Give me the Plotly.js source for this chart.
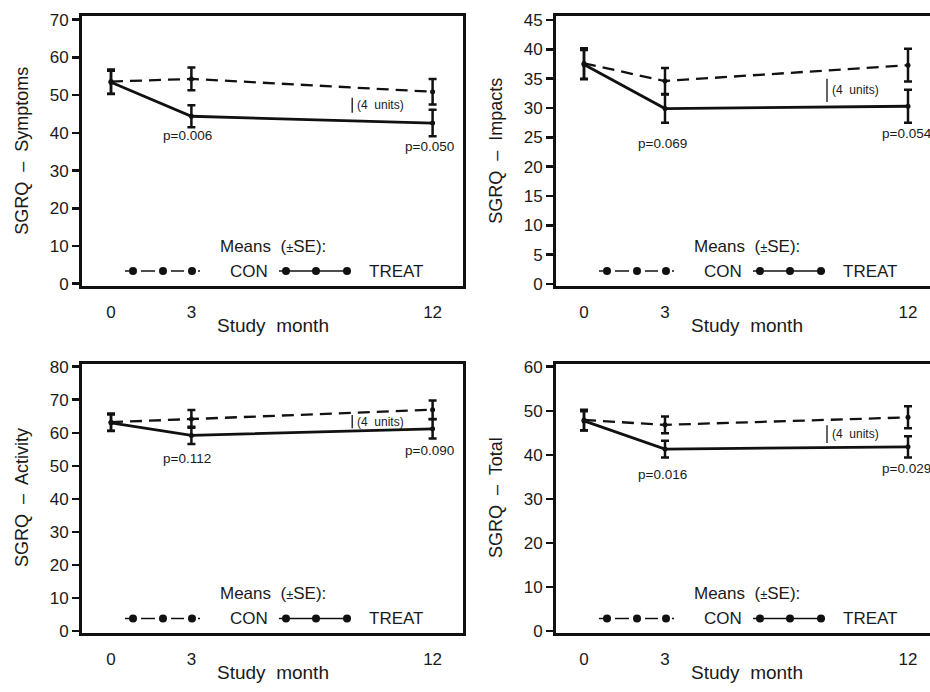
<!DOCTYPE html>
<html>
<head>
<meta charset="utf-8">
<script src="https://cdn.plot.ly/plotly-3.0.1.min.js"></script>
<style>html,body{margin:0;padding:0;background:#fff;}#chart{width:930px;height:692px;}</style>
</head>
<body>
<div id="chart"></div>
<script>
// ---------------- DATA ----------------
const months = [0, 3, 12];
const monthLabels = ['0', '3', '12'];

const symptomsCon = [53.6, 54.3, 50.9];
const symptomsConSE = [3.2, 3.0, 3.4];
const symptomsTreat = [53.4, 44.4, 42.6];
const symptomsTreatSE = [3.1, 2.9, 3.5];
const symptomsP = ['p=0.006', 'p=0.050'];

const impactsCon = [37.6, 34.6, 37.3];
const impactsConSE = [2.6, 2.2, 2.8];
const impactsTreat = [37.4, 29.9, 30.3];
const impactsTreatSE = [2.5, 2.4, 2.8];
const impactsP = ['p=0.069', 'p=0.054'];

const activityCon = [63.2, 64.2, 67.0];
const activityConSE = [2.6, 2.7, 2.8];
const activityTreat = [63.0, 59.2, 61.2];
const activityTreatSE = [2.5, 2.6, 2.9];
const activityP = ['p=0.112', 'p=0.090'];

const totalCon = [47.9, 46.8, 48.5];
const totalConSE = [2.3, 1.9, 2.5];
const totalTreat = [47.7, 41.3, 41.8];
const totalTreatSE = [2.2, 1.9, 2.4];
const totalP = ['p=0.016', 'p=0.029'];

const yTitles = ['SGRQ  \u2013  Symptoms', 'SGRQ  \u2013  Impacts', 'SGRQ  \u2013  Activity', 'SGRQ  \u2013  Total'];
const xTitle = 'Study  month';
const legendTitle = 'Means  (<span style="font-size:13px">\u00B1</span>SE):';
const groupNames = ['CON', 'TREAT'];
const scaleBarUnits = 4;
const scaleBarLabel = '(4  units)';

// ---------------- LAYOUT GEOMETRY (pixels) ----------------
const W = 930, H = 692;
const FONT = 'Liberation Sans, Arial, Helvetica, sans-serif';
const INK = '#1a1a1a';
const px = x => x / W;
const py = y => 1 - y / H;

const panels = [
  {n: '', con: symptomsCon, conSE: symptomsConSE, tr: symptomsTreat, trSE: symptomsTreatSE, p: symptomsP,
   left: 82, right: 463, top: 16, bottom: 285.5, x0: 111, ppm: 26.8, y0: 283.7, ppu: 3.771, dtick: 10,
   bar: {x: 9.0, y: 45.3}, pPos: [[2.87, 39.2, 'center'], [11.9, 36.5, 'center']], yt: 0, mirrorY: true},
  {n: '2', con: impactsCon, conSE: impactsConSE, tr: impactsTreat, trSE: impactsTreatSE, p: impactsP,
   left: 556, right: 930, top: 16, bottom: 285.5, x0: 584, ppm: 27.0, y0: 284, ppu: 5.867, dtick: 5,
   bar: {x: 9.0, y: 31.0}, pPos: [[2.89, 24.0, 'center'], [10.96, 25.7, 'left']], yt: 1, mirrorY: false, frameRight: 938},
  {n: '3', con: activityCon, conSE: activityConSE, tr: activityTreat, trSE: activityTreatSE, p: activityP,
   left: 82, right: 463, top: 363.5, bottom: 632.5, x0: 111, ppm: 26.8, y0: 631, ppu: 3.304, dtick: 10,
   bar: {x: 9.0, y: 61.4}, pPos: [[2.85, 52.1, 'center'], [11.9, 54.5, 'center']], yt: 2, mirrorY: true},
  {n: '4', con: totalCon, conSE: totalConSE, tr: totalTreat, trSE: totalTreatSE, p: totalP,
   left: 556, right: 930, top: 363.5, bottom: 632.5, x0: 584, ppm: 27.0, y0: 631, ppu: 4.405, dtick: 10,
   bar: {x: 9.0, y: 42.7}, pPos: [[2.89, 35.6, 'center'], [10.96, 36.8, 'left']], yt: 3, mirrorY: false, frameRight: 938}
];

const data = [];
const layout = {
  width: W, height: H,
  margin: {l: 0, r: 0, t: 0, b: 0},
  paper_bgcolor: '#fff', plot_bgcolor: '#fff',
  showlegend: false,
  font: {family: FONT, color: INK},
  annotations: [], shapes: []
};

panels.forEach((P, i) => {
  const xa = 'x' + P.n, ya = 'y' + P.n;
  const xr = [(P.left - P.x0) / P.ppm, (P.right - P.x0) / P.ppm];
  const yr = [(P.y0 - P.bottom) / P.ppu, (P.y0 - P.top) / P.ppu];
  layout['xaxis' + P.n] = {
    domain: [px(P.left), px(P.right)], range: xr, anchor: ya,
    tickvals: months, ticktext: monthLabels,
    ticks: 'outside', ticklen: 9, tickcolor: 'rgba(0,0,0,0)',
    tickfont: {size: 17, family: FONT, color: INK},
    showline: true, linewidth: 3, linecolor: '#111', mirror: true,
    showgrid: false, zeroline: false, fixedrange: true
  };
  layout['yaxis' + P.n] = {
    domain: [py(P.bottom), py(P.top)], range: yr, anchor: xa,
    dtick: P.dtick, tick0: 0,
    ticks: 'outside', ticklen: 7, tickwidth: 2.5, tickcolor: '#111',
    tickfont: {size: 17, family: FONT, color: INK},
    showline: true, linewidth: 3, linecolor: '#111', mirror: P.mirrorY,
    showgrid: false, zeroline: false, fixedrange: true
  };

  // CON dashed
  data.push({
    x: months, y: P.con, xaxis: xa, yaxis: ya, type: 'scatter', mode: 'lines+markers',
    name: groupNames[0],
    line: {color: '#111', width: 2.3, dash: '12px,7px'},
    marker: {color: '#111', size: 5},
    error_y: {type: 'data', array: P.conSE, visible: true, thickness: 2.5, width: 4, color: '#111'},
    cliponaxis: false
  });
  // TREAT solid
  data.push({
    x: months, y: P.tr, xaxis: xa, yaxis: ya, type: 'scatter', mode: 'lines+markers',
    name: groupNames[1],
    line: {color: '#111', width: 2.8},
    marker: {color: '#111', size: 5},
    error_y: {type: 'data', array: P.trSE, visible: true, thickness: 2.5, width: 4, color: '#111'},
    cliponaxis: false
  });

  // p-values
  P.p.forEach((t, k) => {
    layout.annotations.push({
      xref: xa, yref: ya, x: P.pPos[k][0], y: P.pPos[k][1], text: t, showarrow: false,
      xanchor: P.pPos[k][2], yanchor: 'middle', font: {size: 13.5, family: FONT, color: INK}
    });
  });

  // 4-unit scale bar
  layout.shapes.push({
    type: 'line', xref: xa, yref: ya, x0: P.bar.x, x1: P.bar.x, y0: P.bar.y, y1: P.bar.y + scaleBarUnits,
    line: {color: '#111', width: 1.3}
  });
  layout.annotations.push({
    xref: xa, yref: ya, x: P.bar.x, y: P.bar.y + scaleBarUnits / 2, text: scaleBarLabel, showarrow: false,
    xanchor: 'left', yanchor: 'middle', xshift: 3, font: {size: 12, family: FONT, color: INK}
  });

  // axis titles (as annotations for exact placement)
  const frameR = P.frameRight || P.right;
  const cx = (P.left + frameR) / 2;
  const cy = (P.top + P.bottom) / 2;
  layout.annotations.push({
    xref: 'paper', yref: 'paper', x: px(P.left < 300 ? 22 : 496), y: py(cy), text: yTitles[P.yt],
    textangle: -90, showarrow: false, xanchor: 'center', yanchor: 'middle',
    font: {size: 18, family: FONT, color: INK}
  });
  layout.annotations.push({
    xref: 'paper', yref: 'paper', x: px(cx), y: py(P.bottom + 40), text: xTitle,
    showarrow: false, xanchor: 'center', yanchor: 'middle',
    font: {size: 19, family: FONT, color: INK}
  });

  // custom legend inside panel
  const L = P.left, T = P.top;
  layout.annotations.push({
    xref: 'paper', yref: 'paper', x: px(L + 190.5), y: py(T + 230),
    text: legendTitle, showarrow: false, xanchor: 'center', yanchor: 'middle',
    font: {size: 17, family: FONT, color: INK}
  });
  const rowY = py(T + 255);
  const dashMk = [51, 81, 110].map(v => L + v);
  const solidMk = [204, 234, 265].map(v => L + v);
  const dashSegs = [[L + 43, L + 47], [L + 59, L + 73], [L + 89, L + 102], [L + 116, L + 118]];
  dashSegs.forEach(s => layout.shapes.push({
    type: 'line', xref: 'paper', yref: 'paper', x0: px(s[0]), x1: px(s[1]), y0: rowY, y1: rowY,
    line: {color: '#111', width: 1.5}
  }));
  layout.shapes.push({
    type: 'line', xref: 'paper', yref: 'paper', x0: px(L + 197), x1: px(L + 269), y0: rowY, y1: rowY,
    line: {color: '#111', width: 1.5}
  });
  dashMk.concat(solidMk).forEach(m => layout.shapes.push({
    type: 'circle', xref: 'paper', yref: 'paper', xsizemode: 'pixel', ysizemode: 'pixel',
    xanchor: px(m), yanchor: rowY, x0: -4, x1: 4, y0: -4, y1: 4,
    fillcolor: '#111', line: {color: '#111', width: 0}
  }));
  layout.annotations.push({
    xref: 'paper', yref: 'paper', x: px(L + 146), y: rowY, text: groupNames[0], showarrow: false,
    xanchor: 'left', yanchor: 'middle', font: {size: 17, family: FONT, color: INK}
  });
  layout.annotations.push({
    xref: 'paper', yref: 'paper', x: px(L + 285), y: rowY, text: groupNames[1], showarrow: false,
    xanchor: 'left', yanchor: 'middle', font: {size: 17, family: FONT, color: INK}
  });
});

Plotly.newPlot('chart', data, layout, {staticPlot: true, displayModeBar: false});
</script>
</body>
</html>
